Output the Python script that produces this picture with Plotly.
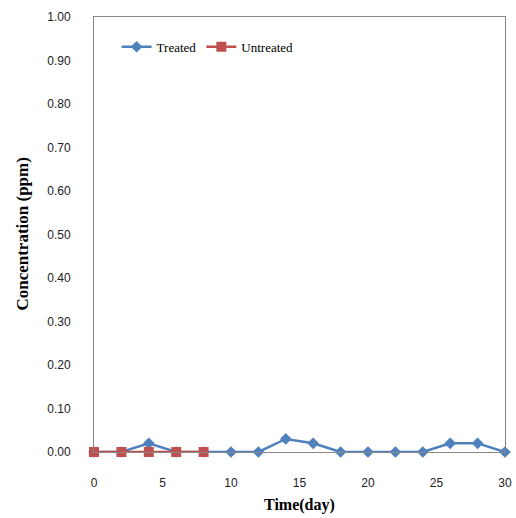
import plotly.graph_objects as go

days_treated = [0, 2, 4, 6, 8, 10, 12, 14, 16, 18, 20, 22, 24, 26, 28, 30]
treated = [0, 0, 0.02, 0, 0, 0, 0, 0.03, 0.02, 0, 0, 0, 0, 0.02, 0.02, 0]
days_untreated = [0, 2, 4, 6, 8]
untreated = [0, 0, 0, 0, 0]
x_ticks = [0, 5, 10, 15, 20, 25, 30]
y_ticks = [i / 10 for i in range(11)]

fig = go.Figure()
fig.add_trace(go.Scatter(x=days_treated, y=treated, name="Treated", mode="lines+markers",
                         line=dict(color="#4F81BD", width=2.5),
                         marker=dict(symbol="diamond", size=9, color="#4F81BD"),
                         cliponaxis=False))
fig.add_trace(go.Scatter(x=days_untreated, y=untreated, name="Untreated", mode="lines+markers",
                         line=dict(color="#C0504D", width=2.5),
                         marker=dict(symbol="square", size=10, color="#C0504D"),
                         cliponaxis=False))

fig.update_layout(
    width=516, height=518,
    margin=dict(l=94, r=11, t=17, b=66),
    paper_bgcolor="white", plot_bgcolor="white",
    showlegend=True,
    legend=dict(orientation="h", x=0.055, y=0.966, xanchor="left", yanchor="top",
                font=dict(family="Liberation Serif", size=13, color="black"),
                bgcolor="rgba(0,0,0,0)", itemwidth=30, tracegroupgap=0),
    xaxis=dict(range=[0, 30], tickvals=x_ticks, showgrid=False, zeroline=False,
               showline=True, linecolor="#888888", linewidth=1, mirror=True, automargin=False,
               ticks="", ticklabelstandoff=20,
               tickfont=dict(family="Liberation Sans", size=12, color="#222222")),
    yaxis=dict(range=[0, 1], tickvals=y_ticks, tickformat=".2f", showgrid=False, zeroline=False,
               showline=True, linecolor="#888888", linewidth=1, mirror=True, automargin=False,
               ticks="", ticklabelstandoff=20,
               tickfont=dict(family="Liberation Sans", size=12, color="#222222")),
    annotations=[
        dict(text="<b>Time(day)</b>", xref="paper", yref="paper", x=0.5, y=-0.122,
             xanchor="center", yanchor="middle", showarrow=False,
             font=dict(family="Liberation Serif", size=16, color="black")),
        dict(text="<b>Concentration (ppm)</b>", xref="paper", yref="paper", x=-0.175, y=0.5,
             xanchor="center", yanchor="middle", showarrow=False, textangle=-90,
             font=dict(family="Liberation Serif", size=17, color="black")),
    ],
)
fig.write_html("out.html")
